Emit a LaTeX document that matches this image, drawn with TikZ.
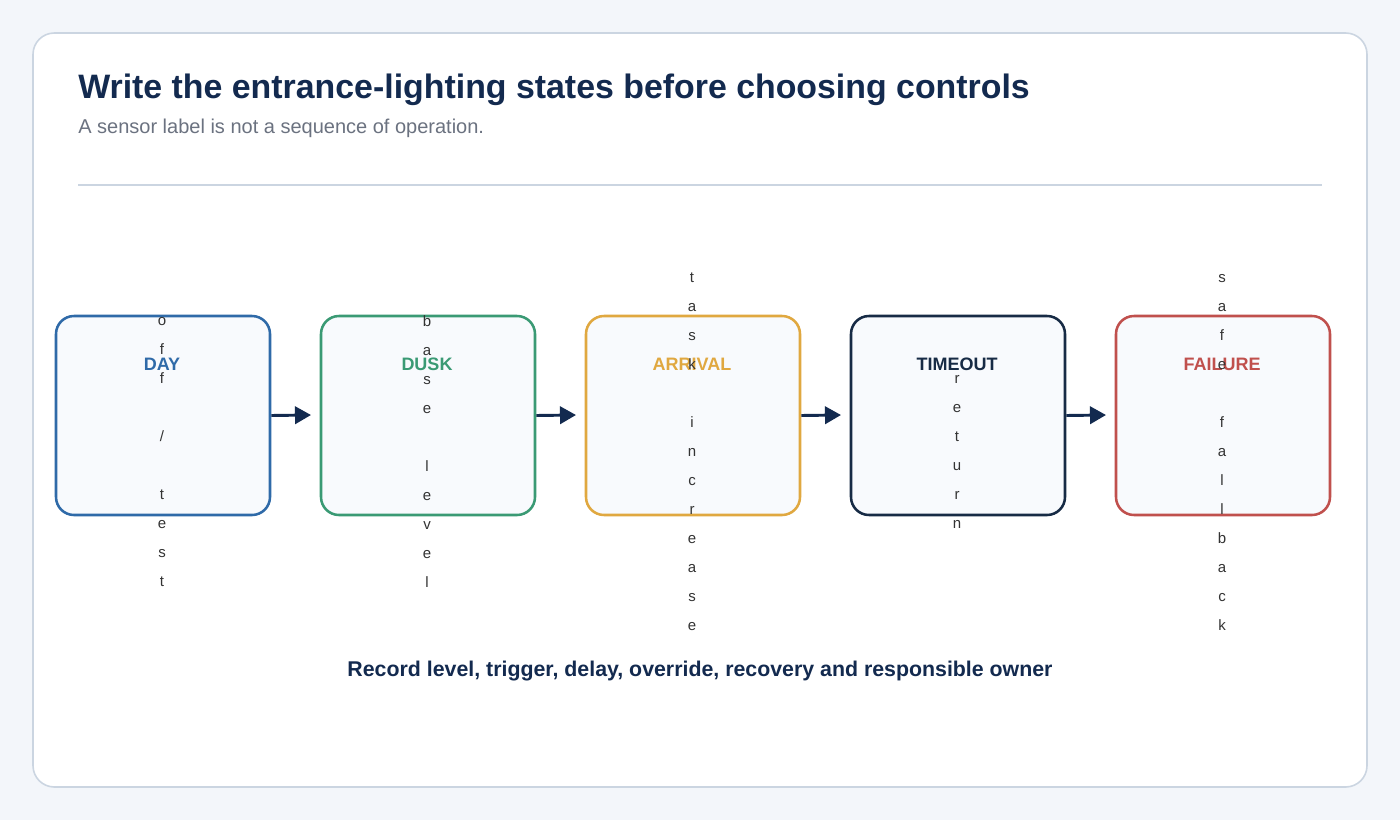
\documentclass[tikz,border=0pt]{standalone}
\usepackage{fontspec}
\setmainfont{Liberation Sans}
\usetikzlibrary{arrows.meta}
\definecolor{bg}{HTML}{F3F6FA}
\definecolor{card}{HTML}{CBD5E1}
\definecolor{navy}{HTML}{132A4F}
\definecolor{sub}{HTML}{6B7280}
\definecolor{cblue}{HTML}{2F6AA8}
\definecolor{cgreen}{HTML}{3A9A74}
\definecolor{corange}{HTML}{E0A840}
\definecolor{cnavy}{HTML}{172B45}
\definecolor{cred}{HTML}{C0504D}
\definecolor{boxfill}{HTML}{F8FAFD}
\definecolor{vtext}{HTML}{333333}
\begin{document}
\begin{tikzpicture}[x=0.75pt,y=-0.75pt,
  state/.style={draw=#1,line width=1.9pt,fill=boxfill,rounded corners=13.5pt,minimum width=160.5pt,minimum height=149.25pt,inner sep=0pt},
  lbl/.style={font=\fontsize{13.5}{15}\selectfont\bfseries,text=#1},
  vert/.style={font=\fontsize{11.25}{21.75}\selectfont,text=vtext,align=center,inner sep=0pt},
  conn/.style={draw=navy,line width=2.2pt,-{Triangle[length=12pt,width=13pt]}}]
\fill[bg] (0,0) rectangle (1400,820);
\useasboundingbox (0,0) rectangle (1400,820);
\draw[card,fill=white,line width=1.2pt,rounded corners=16pt] (33,33) rectangle (1367,787);
\node[anchor=base west,font=\fontsize{25.4}{29}\selectfont\bfseries,text=navy,inner sep=0pt] (title) at (78,99) {Write the entrance-lighting states before choosing controls};
\node[anchor=base west,font=\fontsize{15}{18}\selectfont,text=sub,inner sep=0pt] (subt) at (78,134) {A sensor label is not a sequence of operation.};
\draw[card,line width=1.2pt] (78,185) coordinate (l1) -- (1322,185) coordinate (l2);
\node[state=cblue] (b1) at (163,415.5) {};
\node[state=cgreen] (b2) at (428,415.5) {};
\node[state=corange] (b3) at (693,415.5) {};
\node[state=cnavy] (b4) at (958,415.5) {};
\node[state=cred] (b5) at (1223,415.5) {};
\node[lbl=cblue] (t1) at (162,364) {DAY};
\node[lbl=cgreen] (t2) at (427,364) {DUSK};
\node[lbl=corange] (t3) at (692,364) {ARRIVAL};
\node[lbl=cnavy] (t4) at (957,364) {TIMEOUT};
\node[lbl=cred] (t5) at (1222,364) {FAILURE};
\coordinate (a1) at (311,415); \coordinate (a2) at (576,415); \coordinate (a3) at (841,415); \coordinate (a4) at (1106,415);
\draw[conn] (b1.east) -- (a1);
\draw[conn] (b2.east) -- (a2);
\draw[conn] (b3.east) -- (a3);
\draw[conn] (b4.east) -- (a4);
\node[vert] (v1) at (162,452) {o\\f\\f\\\strut\\/\\\strut\\t\\e\\s\\t};
\node[vert] (v2) at (427,452) {b\\a\\s\\e\\\strut\\l\\e\\v\\e\\l};
\node[vert] (v3) at (692,452) {t\\a\\s\\k\\\strut\\i\\n\\c\\r\\e\\a\\s\\e};
\node[vert] (v4) at (957,452) {r\\e\\t\\u\\r\\n};
\node[vert] (v5) at (1222,452) {s\\a\\f\\e\\\strut\\f\\a\\l\\l\\b\\a\\c\\k};
\node[font=\fontsize{16}{19}\selectfont\bfseries,text=navy] (foot) at (700,671) {Record level, trigger, delay, override, recovery and responsible owner};
\end{tikzpicture}
\end{document}
